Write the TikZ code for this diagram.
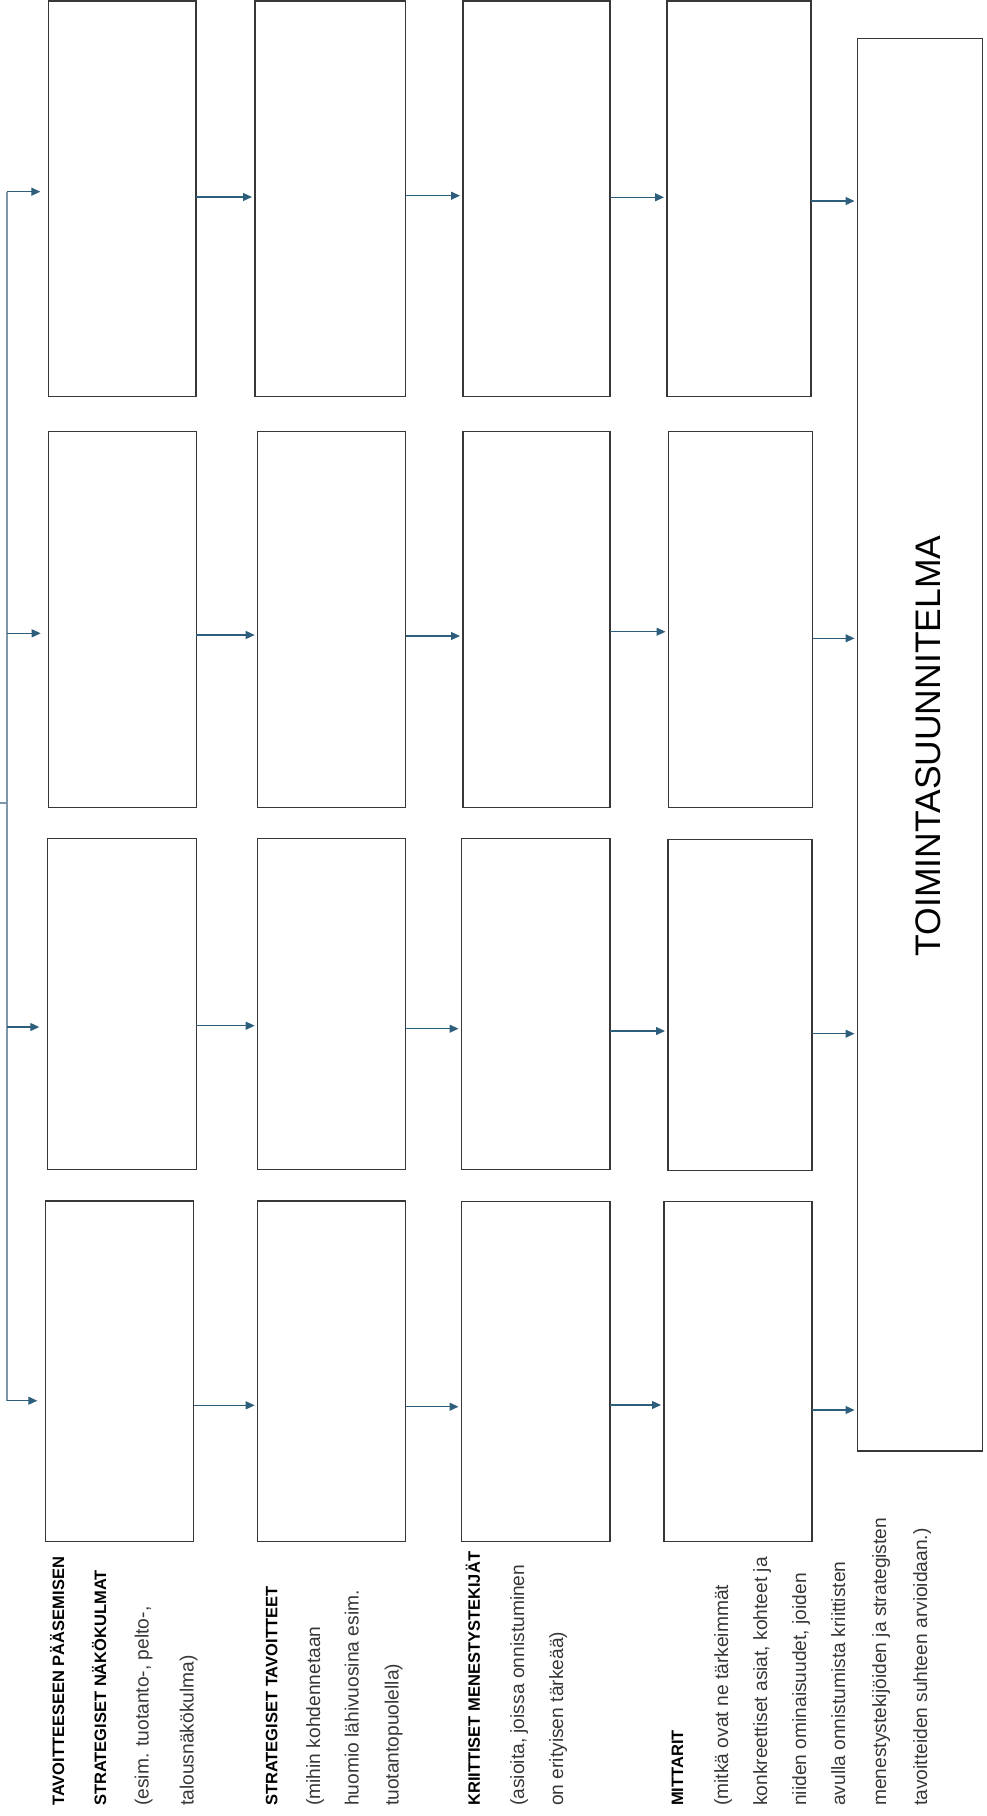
\documentclass[tikz,border=0pt]{standalone}
\usepackage{fontspec}
\setmainfont{Liberation Sans}
\usetikzlibrary{arrows.meta,fit}
\definecolor{boxline}{RGB}{55,55,55}
\definecolor{arrowc}{RGB}{45,95,125}
\definecolor{busc}{RGB}{125,150,168}
\definecolor{txtgray}{RGB}{55,55,55}
\begin{document}
\begin{tikzpicture}[x=1pt,y=-1pt,
  cell/.style={draw=boxline, line width=1.3pt, inner sep=0pt, outer sep=0pt},
  arr/.style={draw=arrowc, line width=1.2pt, -{Triangle[length=9pt,width=8pt]}, shorten >=3pt},
  feed/.style={arr, shorten >=8pt},
  busline/.style={draw=busc, line width=1.3pt},
  head/.style={rotate=90, anchor=base west, inner sep=0pt, font=\fontsize{16.5}{18}\selectfont\bfseries, text=black},
  desc/.style={rotate=90, anchor=base west, inner sep=0pt, font=\fontsize{19.2}{20}\selectfont, text=txtgray},
]
\useasboundingbox (0,0) rectangle (986,1816);

% row 1
\node[cell, fit={(48.3,1) (196,396.7)}] (r1c1) {};
\node[cell, fit={(255,1) (405.7,396.7)}] (r1c2) {};
\node[cell, fit={(463,1) (610,396.7)}] (r1c3) {};
\node[cell, fit={(667,1) (811,396.7)}] (r1c4) {};
% row 2
\node[cell, fit={(48.7,431.7) (196.3,807.3)}] (r2c1) {};
\node[cell, fit={(257.7,431.7) (405.7,807.3)}] (r2c2) {};
\node[cell, fit={(463,431.7) (610,807.3)}] (r2c3) {};
\node[cell, fit={(668.5,431.7) (812.5,807.3)}] (r2c4) {};
% row 3
\node[cell, fit={(47.3,838.3) (196.3,1169.3)}] (r3c1) {};
\node[cell, fit={(257.7,838.3) (405.7,1169.3)}] (r3c2) {};
\node[cell, fit={(461.5,838.3) (610,1169.3)}] (r3c3) {};
\node[cell, fit={(668,839.3) (812,1170.7)}] (r3c4) {};
% row 4
\node[cell, fit={(45.3,1201) (193.7,1541.7)}] (r4c1) {};
\node[cell, fit={(257.7,1201) (405.7,1541.7)}] (r4c2) {};
\node[cell, fit={(461.5,1201.7) (610,1541.7)}] (r4c3) {};
\node[cell, fit={(664,1201.7) (812,1541.7)}] (r4c4) {};
% action plan
\node[cell, fit={(857.5,38.3) (982.7,1451)}] (plan) {};
\node[rotate=90, inner sep=0pt, font=\fontsize{35.5}{40}\selectfont, text=black] (plantxt) at (927.8,745.9) {TOIMINTASUUNNITELMA};

% feed bus
\coordinate (b1) at (7,191.7);
\coordinate (b2) at (7,633.3);
\coordinate (b3) at (7,1027);
\coordinate (b4) at (7,1400.7);
\coordinate (in) at (0,803);
\draw[busline] (b1) -- (b4);
\draw[busline] (in) -- (in -| b1);
\draw[feed] (b1) -- (r1c1.west |- b1);
\draw[feed] (b2) -- (r2c1.west |- b2);
\draw[feed] (b3) -- (r3c1.west |- b3);
\draw[feed] (b4) -- (r4c1.west |- b4);

% row 1 arrows
\draw[arr] (r1c1.east |- 0,197) -- (r1c2.west |- 0,197);
\draw[arr] (r1c2.east |- 0,195.7) -- (r1c3.west |- 0,195.7);
\draw[arr] (r1c3.east |- 0,197.3) -- (r1c4.west |- 0,197.3);
\draw[arr] (r1c4.east |- 0,201) -- (plan.west |- 0,201);
% row 2 arrows
\draw[arr] (r2c1.east |- 0,635) -- (r2c2.west |- 0,635);
\draw[arr] (r2c2.east |- 0,636) -- (r2c3.west |- 0,636);
\draw[arr] (r2c3.east |- 0,631.7) -- (r2c4.west |- 0,631.7);
\draw[arr] (r2c4.east |- 0,638.3) -- (plan.west |- 0,638.3);
% row 3 arrows
\draw[arr] (r3c1.east |- 0,1025.7) -- (r3c2.west |- 0,1025.7);
\draw[arr] (r3c2.east |- 0,1028.7) -- (r3c3.west |- 0,1028.7);
\draw[arr] (r3c3.east |- 0,1031) -- (r3c4.west |- 0,1031);
\draw[arr] (r3c4.east |- 0,1033.7) -- (plan.west |- 0,1033.7);
% row 4 arrows
\draw[arr] (r4c1.east |- 0,1405.3) -- (r4c2.west |- 0,1405.3);
\draw[arr] (r4c2.east |- 0,1406.7) -- (r4c3.west |- 0,1406.7);
\draw[arr] (r4c3.east |- 0,1405) -- (r4c4.west |- 0,1405);
\draw[arr] (r4c4.east |- 0,1410) -- (plan.west |- 0,1410);

% labels
\node[head] (g1a) at (64,1806) {TAVOITTEESEEN PÄÄSEMISEN};
\node[head] (g1b) at (106,1806) {STRATEGISET NÄKÖKULMAT};
\node[desc] (g1c) at (148.5,1806) {(esim. tuotanto-, pelto-,};
\node[desc] (g1d) at (193.5,1806) {talousnäkökulma)};

\node[head] (g2a) at (277.4,1806) {STRATEGISET TAVOITTEET};
\node[desc] (g2b) at (320,1806) {(mihin kohdennetaan};
\node[desc] (g2c) at (358.5,1806) {huomio lähivuosina esim.};
\node[desc] (g2d) at (398.5,1806) {tuotantopuolella)};

\node[head] (g3a) at (479.8,1806) {KRIITTISET MENESTYSTEKIJÄT};
\node[desc] (g3b) at (524,1806) {(asioita, joissa onnistuminen};
\node[desc] (g3c) at (563,1806) {on erityisen tärkeää)};

\node[head] (g4a) at (683,1806) {MITTARIT};
\node[desc] (g4b) at (728,1806) {(mitkä ovat ne tärkeimmät};
\node[desc] (g4c) at (767,1806) {konkreettiset asiat, kohteet ja};
\node[desc] (g4d) at (806,1806) {niiden ominaisuudet, joiden};
\node[desc] (g4e) at (845,1806) {avulla onnistumista kriittisten};
\node[desc] (g4f) at (886,1806) {menestystekijöiden ja strategisten};
\node[desc] (g4g) at (927,1806) {tavoitteiden suhteen arvioidaan.)};
\end{tikzpicture}
\end{document}
